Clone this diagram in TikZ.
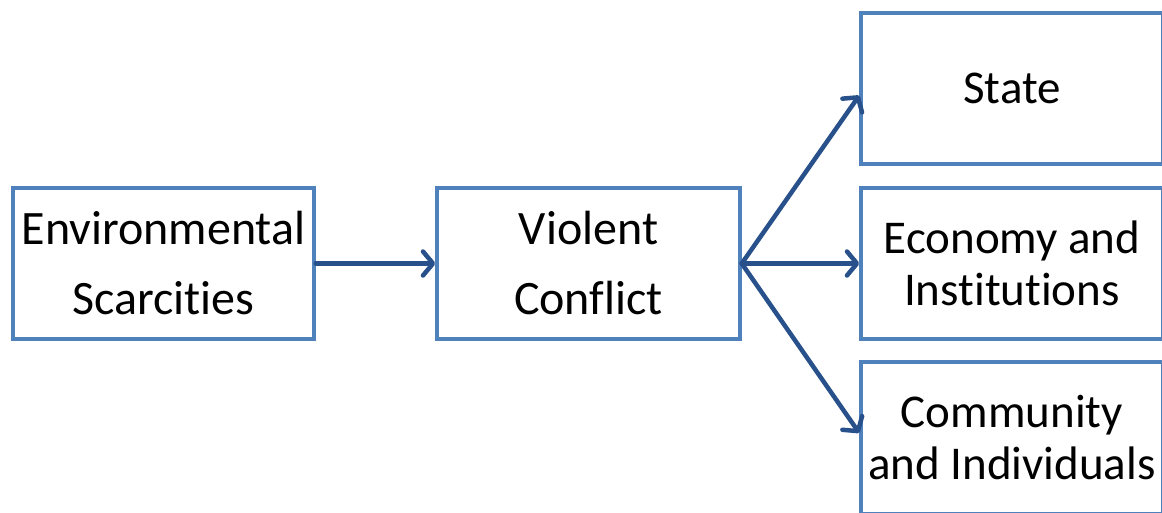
\documentclass[tikz,border=0pt]{standalone}
\usepackage{fontspec}
\setmainfont{Carlito}[Ligatures=NoCommon]
\usetikzlibrary{arrows.meta,calc}
\definecolor{boxblue}{RGB}{79,129,189}
\definecolor{arrowblue}{RGB}{40,80,138}
\tikzset{
  stagebox/.style={draw=boxblue, line width=3.5pt, fill=white, inner sep=0pt,
    align=center, text=black},
  widebox/.style={stagebox, font=\fontsize{48}{70}\selectfont},
  tightbox/.style={stagebox, font=\fontsize{47}{52}\selectfont},
  flow/.style={draw=arrowblue, line width=4.5pt, line cap=round,
    -{Straight Barb[length=10pt,width=24pt,round]}}
}
\begin{document}
\begin{tikzpicture}[x=1pt,y=-1pt]
  \useasboundingbox (0,0) rectangle (1162,513);
  \node[widebox, minimum width=301pt, minimum height=151pt] (env) at (163.5,263.5)
    {Environmental\\Scarcities};
  \node[widebox, minimum width=303pt, minimum height=151pt] (vc) at (588.5,263.5)
    {Violent\\Conflict};
  \node[tightbox, minimum width=302pt, minimum height=151pt] (state) at (1012,88.5)
    {State};
  \node[tightbox, minimum width=302pt, minimum height=151pt] (econ) at (1012,263.5)
    {Economy and\\Institutions};
  \node[tightbox, minimum width=302pt, minimum height=152pt] (comm) at (1012,438)
    {Community\\and Individuals};
  \draw[flow] (env.east) -- (vc.west);
  \draw[flow] (vc.east) -- ($(state.west)+(0,7)$);
  \draw[flow] (vc.east) -- (econ.west);
  \draw[flow] (vc.east) -- ($(comm.west)+(0,-5)$);
\end{tikzpicture}
\end{document}
